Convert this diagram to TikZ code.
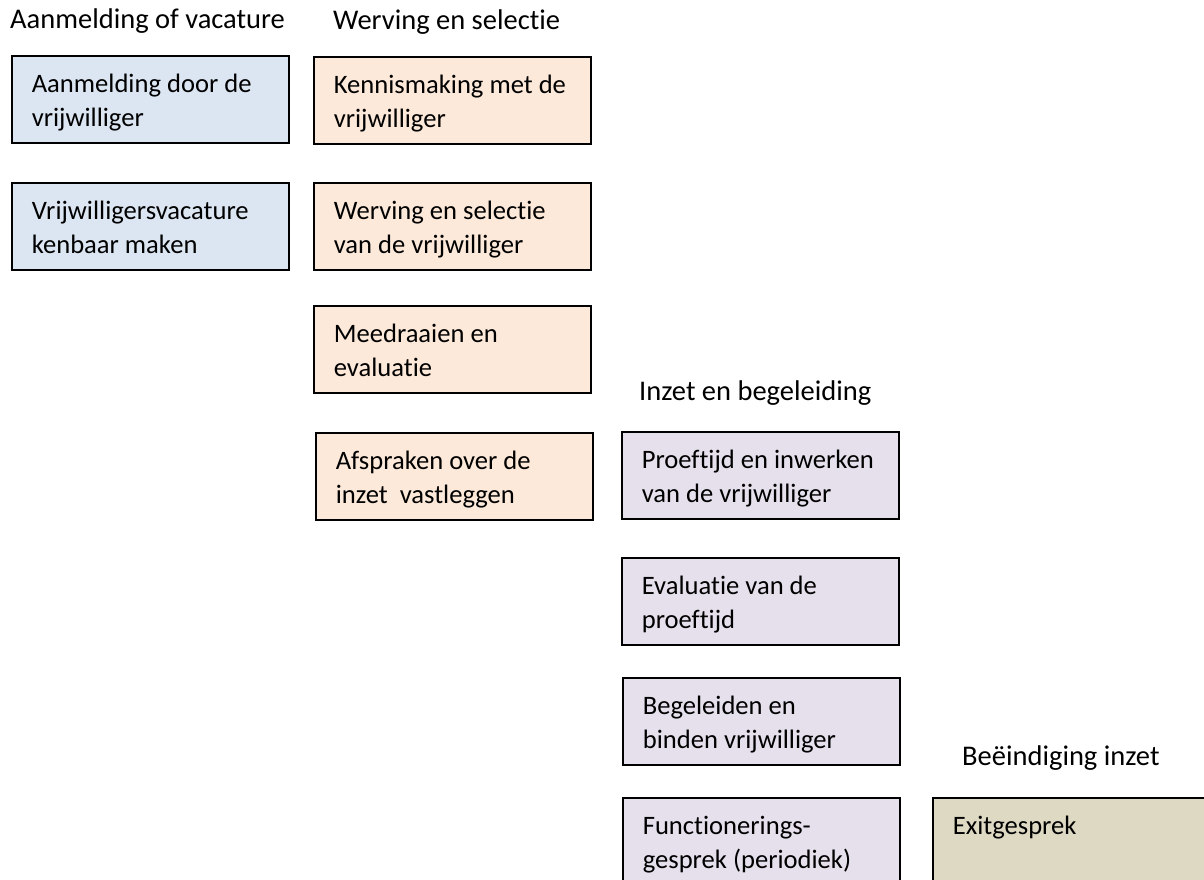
\documentclass[tikz,border=0pt]{standalone}
\usepackage{fontspec}
\setmainfont{Carlito}[Ligatures=NoCommon]
\definecolor{aanmeldblauw}{HTML}{DCE6F2}
\definecolor{wervingoranje}{HTML}{FDE9D9}
\definecolor{inzetpaars}{HTML}{E5E0EC}
\definecolor{eindebeige}{HTML}{DDD9C3}
\begin{document}
\begin{tikzpicture}%
        [x=1pt,
        y=-1pt,
        fase/.style={anchor=base west,inner sep=0pt,font=\fontsize{28.5}{34}\selectfont},
        stap/.style={draw=black,line width=1.6pt,anchor=north west,align=flush left,
            inner xsep=20pt,inner ysep=0pt,text width=237pt,text height=37pt,text depth=50pt,
            font=\fontsize{26.6}{34}\selectfont},
        blauw/.style={stap,fill=aanmeldblauw},
        oranje/.style={stap,fill=wervingoranje},
        paars/.style={stap,fill=inzetpaars},
        beige/.style={stap,fill=eindebeige}]
    \useasboundingbox (0,0) rectangle (1204,880);
    \clip (0,0) rectangle (1204,880);
    %
    %% Fase titles
    \node[fase] (tAanmelding) at (10,29) {Aanmelding of vacature};
    \node[fase] (tWerving) at (333,30) {Werving en selectie};
    \node[fase] (tInzet) at (639,400) {Inzet en begeleiding};
    \node[fase] (tEinde) at (962,765) {Beëindiging inzet};
    %
    %% Aanmelding of vacature
    \node[blauw] (aanmelding) at (11,55) {Aanmelding door de\\vrijwilliger};
    \node[blauw] (vacature) at (11,182) {Vrijwilligersvacature\\kenbaar maken};
    %
    %% Werving en selectie
    \node[oranje] (kennismaking) at (313,56) {Kennismaking met de\\vrijwilliger};
    \node[oranje] (werving) at (313,182) {Werving en selectie\\van de vrijwilliger};
    \node[oranje] (meedraaien) at (313,305) {Meedraaien en\\evaluatie};
    \node[oranje] (afspraken) at (315,432) {Afspraken over de\\inzet\ \ vastleggen};
    %
    %% Inzet en begeleiding
    \node[paars] (proeftijd) at (621,431) {Proeftijd en inwerken\\van de vrijwilliger};
    \node[paars] (evaluatie) at (621,557) {Evaluatie van de\\proeftijd};
    \node[paars] (begeleiden) at (622,677) {Begeleiden en\\binden vrijwilliger};
    \node[paars] (functionering) at (622,797) {Functionerings-\\gesprek (periodiek)};
    %
    %% Beeindiging inzet
    \node[beige,text width=260pt] (exit) at (932,797) {Exitgesprek};
    %
\end{tikzpicture}
\end{document}
